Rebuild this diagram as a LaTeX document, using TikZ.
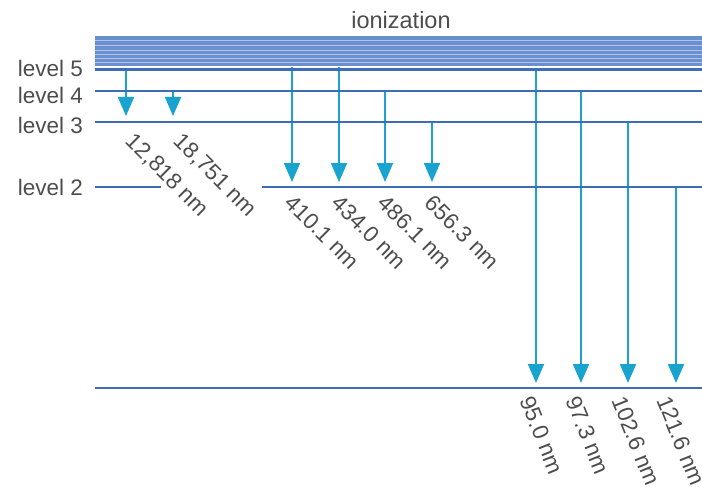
\documentclass[tikz,border=0pt]{standalone}
\usepackage{fontspec}
\setmainfont{Liberation Sans}
\usetikzlibrary{arrows.meta}
\definecolor{levelblue}{HTML}{3F6DB5}
\definecolor{bandblue}{HTML}{6A8FCF}
\definecolor{stripe}{HTML}{AFC4E8}
\definecolor{trans}{HTML}{19A4CF}
\definecolor{txt}{HTML}{4D4D4D}
\begin{document}
\begin{tikzpicture}[x=1pt,y=-1pt,
  level/.style={draw=levelblue,line width=2.4pt},
  jump/.style={draw=trans,line width=2pt,-{Triangle[width=16pt,length=19pt]}},
  lvl/.style={text=txt,font=\fontsize{22.5}{22.5}\selectfont,inner sep=0pt,anchor=east},
  wl/.style={text=txt,font=\fontsize{22.5}{22.5}\selectfont,inner sep=0pt,anchor=north west}]
\useasboundingbox (0,0) rectangle (702,487);

% ionization continuum
\node[text=txt,font=\fontsize{23.5}{23.5}\selectfont,inner sep=0pt] (ion) at (401,20) {ionization};
\fill[bandblue] (95,36) rectangle (702,66.5);
\foreach \y in {41,46,50.5,55,59,63}
  \draw[stripe,line width=1pt] (95,\y) -- (702,\y);
\draw[white,line width=1.2pt] (95,67.3) -- (702,67.3);

% transitions
\foreach \x/\a/\b in {126/69.5/116, 173/91/116,
                      292/67/182, 339/67/182, 385/91/182, 432/122/182,
                      536/69.5/383, 581/91/383, 628/122/383, 676/187/383}
  \draw[jump] (\x,\a) -- (\x,\b);

% energy levels
\draw[level] (95,69.5) -- (702,69.5);
\draw[level] (95,91) -- (702,91);
\draw[level] (95,122) -- (702,122);
\draw[level] (95,187) -- (161,187);
\draw[level] (262,187) -- (702,187);
\draw[level] (95,388) -- (702,388);

% level labels
\node[lvl] (l5) at (83,68) {level 5};
\node[lvl] (l4) at (83,95) {level 4};
\node[lvl] (l3) at (83,125) {level 3};
\node[lvl] (l2) at (83,187) {level 2};

% wavelengths
\node[wl,rotate=-45] (p1) at (136,131) {12,818 nm};
\node[wl,rotate=-45] (p2) at (184,131) {18,751 nm};
\node[wl,rotate=-45] (b1) at (295,193) {410.1 nm};
\node[wl,rotate=-45] (b2) at (342,193) {434.0 nm};
\node[wl,rotate=-45] (b3) at (388,193) {486.1 nm};
\node[wl,rotate=-45] (b4) at (435,193) {656.3 nm};
\node[wl,rotate=-68] (y1) at (534,394) {95.0 nm};
\node[wl,rotate=-68] (y2) at (580,394) {97.3 nm};
\node[wl,rotate=-68] (y3) at (626,394) {102.6 nm};
\node[wl,rotate=-68] (y4) at (671,394) {121.6 nm};
\end{tikzpicture}
\end{document}
